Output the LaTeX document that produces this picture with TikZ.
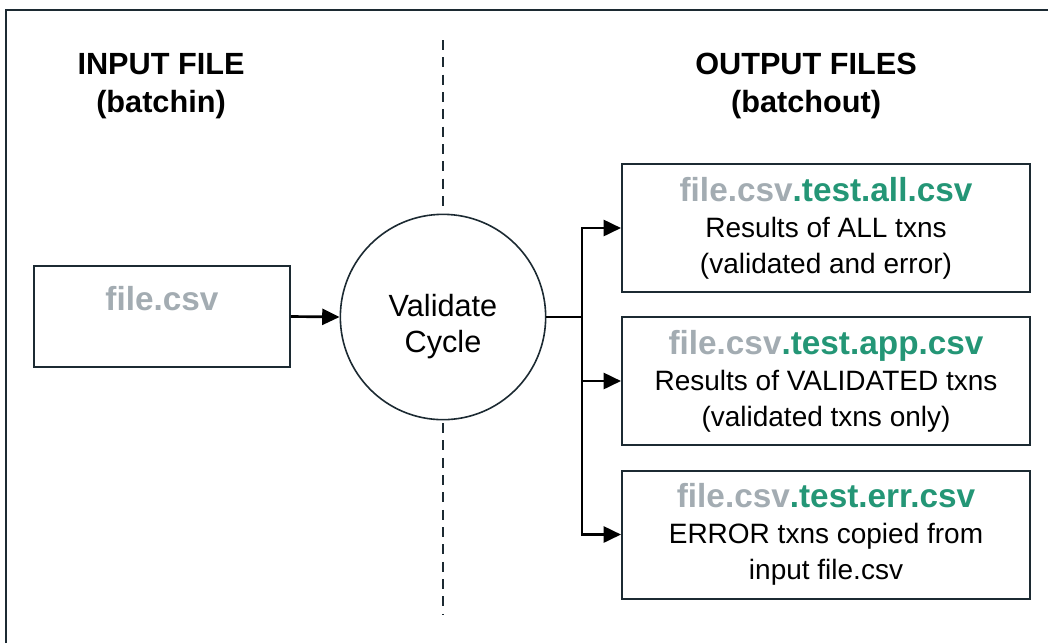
\documentclass[tikz,border=0pt]{standalone}
\usepackage{fontspec}
\setmainfont{Liberation Sans}
\usetikzlibrary{arrows.meta}
\definecolor{csvgrey}{RGB}{163,172,178}
\definecolor{csvgreen}{RGB}{36,150,118}
\definecolor{inkline}{RGB}{28,42,50}
\newcommand{\csvtitle}[1]{{\fontsize{25}{27}\selectfont\bfseries\textcolor{csvgrey}{file.csv}\textcolor{csvgreen}{#1}}}

\begin{document}
\begin{tikzpicture}[x=0.75pt,y=-0.75pt,
    frame/.style={draw=inkline, line width=1.5pt},
    filebox/.style={frame, minimum width=306pt, minimum height=96pt, align=center, inner sep=0pt, font=\fontsize{21}{27}\selectfont},
    cyclenode/.style={circle, draw=inkline, line width=1.2pt, minimum size=154pt, inner sep=0pt},
    heading/.style={align=center, font=\fontsize{23}{28}\selectfont\bfseries},
    divider/.style={draw=inkline, line width=1.4pt, dash pattern=on 7.5pt off 5.5pt},
    link/.style={draw=black, line width=2pt},
    flow/.style={link, -{Triangle[length=13pt,width=12pt]}}]

\useasboundingbox (0,0) rectangle (1048,643);
% outer frame, cut at right and bottom
\draw[frame] (6,643) -- (6,10) -- (1048,10);

\node[heading] (inhead) at (161,86) {INPUT FILE\\(batchin)};
\node[heading] (outhead) at (806,86) {OUTPUT FILES\\(batchout)};

\node[cyclenode, label={[align=center, font=\fontsize{23}{27}\selectfont, yshift=-7pt]center:Validate\\Cycle}] (cycle) at (443,317) {};
\coordinate (divtop) at (443,40);
\coordinate (divbot) at (443,615);
\draw[divider] (divtop) -- ([yshift=6pt]cycle.north);
\draw[divider] ([yshift=-2pt]cycle.south) -- (divbot);

\node[filebox, minimum width=192pt, minimum height=76pt, text=csvgrey, font=\fontsize{25}{27}\selectfont\bfseries] (infile) at (162,316.5) {file.csv\\\mbox{}};

\node[filebox] (outall) at (826,228) {\csvtitle{.test.all.csv}\\Results of ALL txns\\(validated and error)};
\node[filebox] (outapp) at (826,381) {\csvtitle{.test.app.csv}\\Results of VALIDATED txns\\(validated txns only)};
\node[filebox] (outerr) at (826,534.5) {\csvtitle{.test.err.csv}\\ERROR txns copied from\\input file.csv};

\draw[flow] (infile.east) -- (cycle.west);
\coordinate (split) at (582,317);
\draw[link] (cycle.east) -- (split);
\draw[flow] (split) |- (outall.west);
\draw[flow] (split) |- (outapp.west);
\draw[flow] (split) |- (outerr.west);
\end{tikzpicture}
\end{document}
